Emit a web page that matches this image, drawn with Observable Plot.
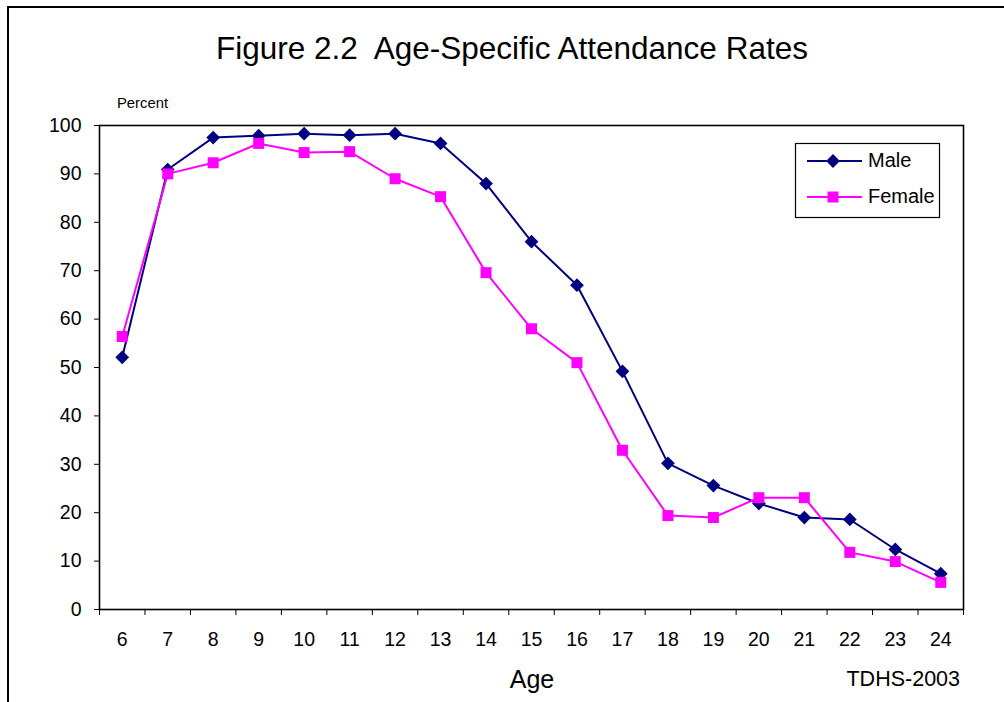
<!DOCTYPE html>
<html>
<head>
<meta charset="utf-8">
<script src="https://cdn.jsdelivr.net/npm/d3@7"></script>
<script src="https://cdn.jsdelivr.net/npm/@observablehq/plot@0.6"></script>
<style>
  html, body { margin: 0; padding: 0; background: #fff; }
  #wrap { position: relative; width: 1004px; height: 702px; overflow: hidden; font-family: "Liberation Sans", Arial, sans-serif; }
  #outer { position: absolute; left: 7px; top: 6px; width: 1100px; height: 800px; border-left: 2px solid #000; border-top: 2px solid #000; }
  #chart { position: absolute; left: 0; top: 0; }
  #chart svg text { font-size: 19.5px !important; fill: #000; }
  #overlay { position: absolute; left: 0; top: 0; pointer-events: none; }
  #overlay text { white-space: pre; }
</style>
</head>
<body>
<div id="wrap">
  <div id="outer"></div>
  <div id="chart"></div>
  <svg id="overlay" width="1004" height="702"></svg>
</div>
<script>
// ---- data ----
const ages = [6, 7, 8, 9, 10, 11, 12, 13, 14, 15, 16, 17, 18, 19, 20, 21, 22, 23, 24];
const maleRates = [52.1, 90.9, 97.5, 97.9, 98.3, 98.0, 98.3, 96.3, 88.0, 76.0, 67.0, 49.2, 30.2, 25.6, 21.9, 19.0, 18.6, 12.4, 7.4];
const femaleRates = [56.4, 90.0, 92.3, 96.3, 94.4, 94.6, 89.0, 85.3, 69.6, 58.0, 51.0, 32.9, 19.4, 19.0, 23.1, 23.1, 11.8, 9.9, 5.6];
const yTicks = [0, 10, 20, 30, 40, 50, 60, 70, 80, 90, 100];
const seriesNames = ["Male", "Female"];
const seriesColors = ["#000080", "#FF00FF"];
const titleText = "Figure 2.2  Age-Specific Attendance Rates";
const yLabel = "Percent";
const xLabel = "Age";
const sourceText = "TDHS-2003";

const male = ages.map((a, i) => ({age: a, value: maleRates[i]}));
const female = ages.map((a, i) => ({age: a, value: femaleRates[i]}));
const boundaries = ages.map(a => a - 0.5).concat([ages[ages.length - 1] + 0.5]);

const font = "Liberation Sans, Arial, sans-serif";

const plot = Plot.plot({
  width: 1004,
  height: 702,
  marginLeft: 99,
  marginRight: 41,
  marginTop: 125,
  marginBottom: 93,
  style: {fontFamily: font, fontSize: "19.5px", color: "#000", background: "transparent", overflow: "visible"},
  x: {domain: [ages[0] - 0.5, ages[ages.length - 1] + 0.5]},
  y: {domain: [0, 100]},
  marks: [
    Plot.frame({stroke: "#000", strokeWidth: 1.6}),
    Plot.axisY({ticks: yTicks, tickSize: 5, tickPadding: 13, label: null, fontSize: 19.5, tickFormat: d => String(d)}),
    Plot.axisX({ticks: ages, tickSize: 0, tickPadding: 23, label: null, fontSize: 19.5, tickFormat: d => String(d)}),
    Plot.axisX({ticks: boundaries, tickSize: 6, tickFormat: () => "", label: null}),
    Plot.line(male, {x: "age", y: "value", stroke: seriesColors[0], strokeWidth: 2}),
    Plot.line(female, {x: "age", y: "value", stroke: seriesColors[1], strokeWidth: 2}),
    Plot.dot(male, {x: "age", y: "value", symbol: "diamond2", fill: seriesColors[0], stroke: "none", r: 6.2}),
    Plot.dot(female, {x: "age", y: "value", symbol: "square", fill: seriesColors[1], stroke: "none", r: 6.2})
  ]
});
document.getElementById("chart").appendChild(plot);

// ---- overlay texts and legend ----
const svg = d3.select("#overlay").style("font-family", font);
svg.append("text").attr("x", 512).attr("y", 59).attr("text-anchor", "middle")
  .attr("xml:space", "preserve").attr("font-size", 31.5).text(titleText);
svg.append("text").attr("x", 117).attr("y", 108).attr("font-size", 14.8).text(yLabel);
svg.append("text").attr("x", 532).attr("y", 688).attr("text-anchor", "middle")
  .attr("font-size", 25).text(xLabel);
svg.append("text").attr("x", 960).attr("y", 686).attr("text-anchor", "end")
  .attr("font-size", 21.5).text(sourceText);

const lg = svg.append("g");
lg.append("rect").attr("x", 795.5).attr("y", 143.5).attr("width", 144).attr("height", 74)
  .attr("fill", "#fff").attr("stroke", "#000").attr("stroke-width", 1.2);
const rowsY = [161, 197];
const syms = [d3.symbolDiamond2, d3.symbolSquare];
seriesNames.forEach((name, i) => {
  const y = rowsY[i];
  lg.append("line").attr("x1", 807).attr("x2", 862).attr("y1", y).attr("y2", y)
    .attr("stroke", seriesColors[i]).attr("stroke-width", 2);
  lg.append("path").attr("transform", `translate(833,${y})`)
    .attr("d", d3.symbol(syms[i], 6.2 * 6.2 * Math.PI)()).attr("fill", seriesColors[i]);
  lg.append("text").attr("x", 868).attr("y", y + 6).attr("font-size", 20).text(name);
});
</script>
</body>
</html>
